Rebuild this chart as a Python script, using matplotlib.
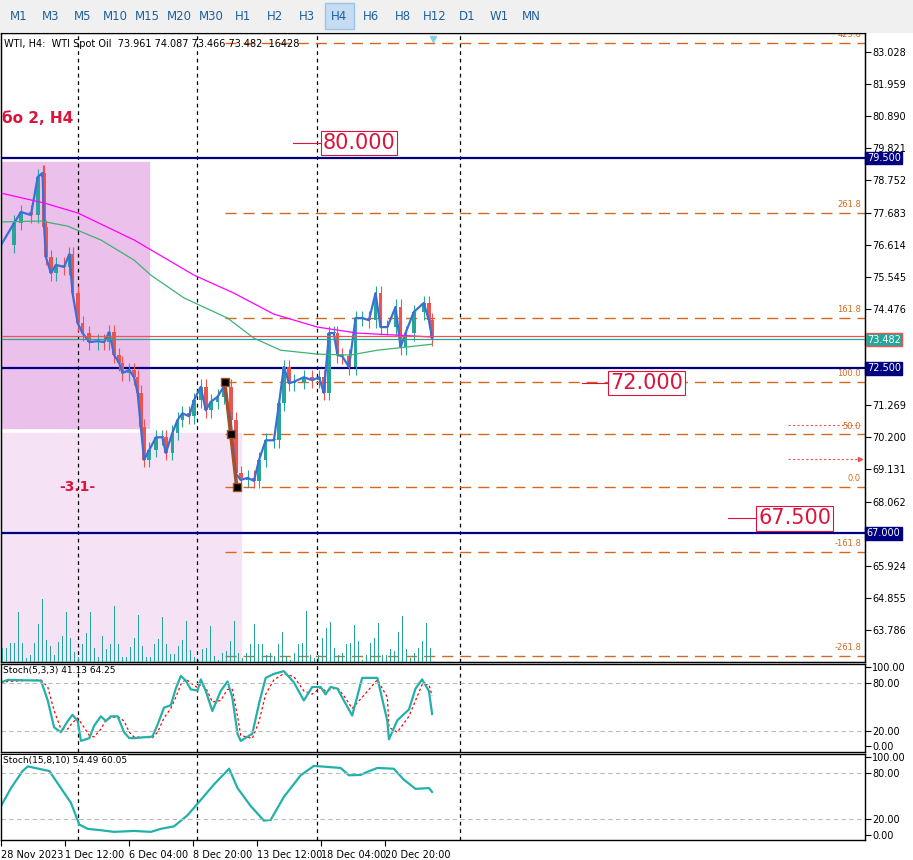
import matplotlib.pyplot as plt
import matplotlib.patches as mpatches

# time positions are in H4 bars (1 bar = 4 px on the chart)
bar_pos = [0, 3.3, 5, 7.5, 9.2, 10.4, 10.8, 11.25, 12.5, 13.75, 15.8, 17.1, 17.9, 19.2, 20.4, 22.1,
           24.2, 25.8, 27.1, 28.3, 29.6, 30.4, 32.1, 33.3, 34.2, 35, 35.8, 37.1, 38.8, 40.4, 41.25,
           42.9, 44.2, 45.4, 47.1, 48.3, 50, 51.25, 52.5, 54.2, 55.7, 57.5, 58.75, 60, 61.7, 63.3,
           64.6, 66.25, 68.3, 69.6, 70.8, 72.1, 73.3, 75.8, 77.9, 79.6, 80.8, 82.1, 83.3, 84.2,
           85.4, 87.1, 88.75, 90.4, 92.1, 93.75, 95, 96.7, 98.75, 100, 101.25, 103.3, 105.8,
           107.1, 107.9]
closes = [76.6, 77.34, 77.7, 77.6, 78.87, 79.0, 77.2, 76.2, 75.67, 75.94, 75.87, 76.3, 75.0,
          74.0, 73.67, 73.37, 73.4, 73.37, 73.7, 72.94, 72.67, 72.34, 72.44, 72.2, 71.68, 70.55,
          69.45, 69.78, 70.2, 70.2, 69.68, 70.35, 70.78, 71.0, 70.9, 71.44, 71.88, 71.1, 71.38,
          71.55, 71.88, 70.78, 69.0, 68.78, 68.85, 68.75, 69.45, 70.1, 70.1, 71.34, 72.54, 72.0,
          72.05, 72.2, 72.1, 72.2, 71.68, 73.67, 73.67, 72.94, 72.9, 72.54, 74.17, 74.17, 74.1,
          75.0, 73.87, 73.87, 74.54, 73.2, 73.67, 74.37, 74.67, 74.1, 73.5]

ma_slow_x = [0, 10.8, 19.2, 33.3, 48.3, 58.3, 68.3, 79.2, 89.2, 107.9]
ma_slow = [78.33, 78.0, 77.67, 76.77, 75.6, 75.0, 74.3, 73.87, 73.67, 73.54]
ma_fast_x = [0, 10, 16.7, 25, 33.3, 37.5, 45.8, 56.7, 63.3, 70, 79.2, 87.5, 94.2, 107.9]
ma_fast = [77.37, 77.4, 77.23, 76.77, 76.1, 75.6, 74.84, 74.17, 73.5, 73.1, 72.97, 72.94, 73.1, 73.3]

volumes = [42, 42, 57, 57, 147, 55, 12, 20, 57, 112, 185, 65, 47, 20, 59, 77, 147, 72, 29, 15,
           52, 84, 147, 42, 15, 77, 37, 52, 165, 52, 15, 15, 44, 72, 137, 47, 15, 15, 52, 67,
           132, 52, 24, 24, 47, 65, 120, 34, 15, 7, 37, 42, 107, 17, 7, 27, 32, 62, 122, 27,
           12, 27, 52, 112, 54, 52, 20, 27, 17, 52, 87, 19, 7, 27, 52, 57, 150, 22, 12, 22,
           72, 99, 119, 42, 20, 27, 52, 57, 109, 62, 7, 22, 57, 72, 115, 20, 22, 37, 32, 87,
           134, 37, 12, 27, 42, 62, 114, 42]

st1_x = [0, 1.7, 10, 11.7, 13.3, 15, 16.7, 17.9, 19.2, 20, 22.1, 23.3, 25, 26.25, 27.5, 29.2,
         30.8, 32.1, 33.3, 37.9, 39.2, 40.8, 42.5, 43.75, 45, 46.25, 47.5, 49.2, 50, 51.25,
         52.9, 55, 56.7, 57.9, 59.2, 60, 62.9, 64.6, 66.25, 68.3, 70.8, 73.3, 75.8, 77.9, 80,
         81.25, 82.5, 84.2, 85.8, 87.9, 90.4, 94.2, 96.7, 97.1, 99.2, 102.1, 103.75, 105.4,
         107.1, 107.9]
st1_main = [80.8, 84, 83, 58, 24, 18, 32, 40, 32, 7, 10.5, 26, 38, 32, 38, 38, 18, 10.5, 10.5,
            12.4, 27.6, 49, 52, 73, 89, 83, 72, 70.6, 84.6, 70, 44.7, 70, 82, 61.5, 16, 7, 16,
            54.6, 86.5, 91.5, 95, 80.8, 58, 75, 75, 65.7, 75, 73, 58, 39, 86.5, 86.5, 32, 9, 33,
            46.6, 73, 84.6, 70, 41]
st1_sig = [80, 82, 84, 75, 45, 22, 22, 30, 36, 30, 14, 12, 22, 33, 36, 38, 32, 18, 12,
           11, 18, 36, 48, 62, 78, 85, 80, 74, 78, 74, 56, 58, 72, 72, 38, 14, 10, 32, 66, 84,
           92, 88, 70, 66, 74, 70, 72, 74, 64, 48, 62, 84, 62, 24, 18, 38, 58, 78, 78, 64]

st2_x = [0, 2.5, 5.4, 6.7, 12.1, 15, 17.5, 19.6, 21.7, 25, 28.3, 33.3, 37.5, 40, 43.3, 46.7,
         50, 53.3, 57.1, 59.2, 62.5, 65.8, 67.5, 70.8, 75, 78.3, 80, 82.5, 85, 87.1, 90,
         91.7, 94.2, 98.3, 100.8, 103.75, 107.1, 107.9]
st2_main = [36.8, 60, 82, 88, 82, 60, 41, 13, 7.4, 5.6, 3.5, 4.7, 3.5, 7.4, 10.6, 25, 44.7,
            64.7, 85, 60, 36.8, 18, 19, 48.6, 76.5, 88.6, 88, 87, 86, 76.5, 77, 81, 86, 85,
            71, 59, 60, 55]

zigzag_x = [56, 57.5, 59]
zigzag_y = [72.04, 70.3, 68.55]

fib_levels = [83.33, 77.68, 74.17, 72.04, 70.3, 68.55, 66.39, 62.92]
fib_names = ['423.6', '261.8', '161.8', '100.0', '50.0', '0.0', '-161.8', '-261.8']
levels = [79.5, 72.5, 67.0]
level_labels = ['79.500', '72.500', '67.000']
price_ticks = [83.028, 81.959, 80.890, 79.821, 78.752, 77.683, 76.614, 75.545, 74.476,
               73.407, 72.338, 71.269, 70.200, 69.131, 68.062, 66.993, 65.924, 64.855, 63.786]
hidden_ticks = [73.407, 72.338, 66.993]  # covered by the price boxes
time_ticks = [0, 16, 32, 48, 64, 80, 96]
time_labels = ['28 Nov 2023', '1 Dec 12:00', '6 Dec 04:00', '8 Dec 20:00',
               '13 Dec 12:00', '18 Dec 04:00', '20 Dec 20:00']
periods = ['M1', 'M3', 'M5', 'M10', 'M15', 'M20', 'M30', 'H1', 'H2', 'H3', 'H4', 'H6',
           'H8', 'H12', 'D1', 'W1', 'MN']
separators = [19.25, 49, 79, 115]

XMAX = 865 / 4
UP, DOWN, BLUE, NAVY, ORANGE = '#26a69a', '#ef5350', '#3a6fd8', '#000080', '#d2691e'
FS = 7

fig = plt.figure(figsize=(9.13, 8.60), dpi=100)
W, H = 913, 860

def frac(x0, y0, x1, y1):
    return [x0 / W, 1 - y1 / H, (x1 - x0) / W, (y1 - y0) / H]

# toolbar
fig.patches.append(mpatches.Rectangle((0, 1 - 32 / H), 1, 32 / H, transform=fig.transFigure,
                                      color='#f0f0f0', zorder=0))
fig.patches.append(mpatches.Rectangle((325 / W, 1 - 29 / H), 29 / W, 26 / H,
                                      transform=fig.transFigure, facecolor='#c5dcf2',
                                      edgecolor='#9cc3e8', zorder=1))
for i, p in enumerate(periods):
    fig.text((19 + 32 * i) / W, 1 - 16 / H, p, ha='center', va='center', fontsize=8.5,
             color='#1f5f9f')

ax = fig.add_axes(frac(1, 33, 865, 662))
ax1 = fig.add_axes(frac(1, 664, 865, 752), sharex=ax)
ax2 = fig.add_axes(frac(1, 754, 865, 840), sharex=ax)

ymin, ymax = 62.72, 83.66
ax.set_ylim(ymin, ymax)
ax.set_xlim(0, XMAX)

# zones
ax.add_patch(mpatches.Rectangle((0, 70.51), 37, 79.37 - 70.51, color='#ebc0eb', zorder=0))
ax.add_patch(mpatches.Rectangle((0, ymin), 60, 70.35 - ymin, color='#f5e3f5', zorder=0))

# volumes on a hidden twin axis
axv = ax.twinx()
axv.set_ylim(0, 1850)
axv.bar([i + 0.5 for i in range(len(volumes))], volumes, width=0.25, color=UP)
axv.set_yticks([])
axv.set_zorder(ax.get_zorder() + 1)
axv.patch.set_visible(False)
axv.set_xlim(0, XMAX)

for s in separators:
    for a in (ax, ax1, ax2):
        a.axvline(s, color='black', ls=(0, (3, 3)), lw=0.9, zorder=2)

for lv in fib_levels:
    ax.hlines(lv, 56, XMAX, color=ORANGE, ls=(0, (8, 5)), lw=1, zorder=2)
for lv, nm in zip(fib_levels, fib_names):
    ax.text(XMAX - 1, lv + 0.12, nm, ha='right', va='bottom', fontsize=6, color=ORANGE)
ax.hlines([70.6, 69.48], 197, 215, color='#ef5350', ls=(0, (2, 2)), lw=0.8)
ax.plot([215], [69.48], marker='>', color='#ef5350', ms=3)

for lv in levels:
    ax.axhline(lv, color=NAVY, lw=1.6, zorder=3)

# candles
opens = [closes[0]] + closes[:-1]
for x, o, c in zip(bar_pos, opens, closes):
    col = UP if c >= o else DOWN
    lo, hi = min(o, c), max(o, c)
    ax.vlines(x, lo - 0.25, hi + 0.25, color=col, lw=0.8, zorder=4)
    ax.bar(x, max(hi - lo, 0.03), bottom=lo, width=0.9, color=col, zorder=4)
ax.plot(bar_pos, closes, color=BLUE, lw=1.6, zorder=5)
ax.plot(ma_slow_x, ma_slow, color='#ff00ff', lw=0.9, zorder=5)
ax.plot(ma_fast_x, ma_fast, color='#3cb371', lw=0.9, zorder=5)
ax.axhline(73.57, color='#ef5350', lw=0.9, zorder=5)
ax.axhline(73.482, color=UP, lw=0.9, zorder=5)

ax.plot(zigzag_x, zigzag_y, color='#a0522d', lw=2.5, zorder=6)
ax.plot(zigzag_x, zigzag_y, 's', color='black', mec='#a0522d', ms=6, zorder=7)

# target price boxes
for x0, x1, p, txt in [(73, 80, 80.0, '80.000'), (145.5, 152, 72.0, '72.000'),
                       (182, 189, 67.5, '67.500')]:
    ax.plot([x0, x1], [p, p], color='#dc143c', lw=0.8, zorder=6)
    ax.text(x1 + 0.5, p, txt, fontsize=15, color='#dc143c', va='center', ha='left', zorder=7,
            bbox=dict(boxstyle='square,pad=0.1', fc='white', ec='#dc143c', lw=0.8))

ax.text(0.3, 80.83, 'бо 2, H4', fontsize=11, color='#dc143c', fontweight='bold', va='center')
ax.text(14.5, 68.55, '-3.1-', fontsize=10, color='#dc143c', fontweight='bold', va='center')
ax.text(0.8, 83.28, 'WTI, H4:  WTI Spot Oil  73.961 74.087 73.466 73.482  16428',
        fontsize=7, va='center', zorder=8)
ax.plot([108], [83.45], marker='v', color='#87ceeb', ms=5, clip_on=False)

ax.yaxis.tick_right()
ax.set_yticks(price_ticks)
ax.set_yticklabels(['' if t in hidden_ticks else f'{t:.3f}' for t in price_ticks], fontsize=FS)
for lv, lb in zip(levels, level_labels):
    ax.text(1.002, lv, lb, transform=ax.get_yaxis_transform(), fontsize=FS, color='white',
            va='center', ha='left', bbox=dict(boxstyle='square,pad=0.15', fc=NAVY, ec=NAVY))
ax.text(1.002, 73.45, '73.482', transform=ax.get_yaxis_transform(), fontsize=FS,
        color='white', va='center', ha='left',
        bbox=dict(boxstyle='square,pad=0.15', fc=UP, ec=DOWN))

# stochastics
ax1.plot(st1_x, st1_sig, color='red', ls=(0, (2, 2)), lw=0.9)
ax1.plot(st1_x, st1_main, color='#20b2aa', lw=1.6)
ax2.plot(st2_x, st2_main, color='#20b2aa', lw=1.6)
ax1.text(0.5, 96, 'Stoch(5,3,3) 41.13 64.25', fontsize=6.5, va='center')
ax2.text(0.5, 96, 'Stoch(15,8,10) 54.49 60.05', fontsize=6.5, va='center',
         bbox=dict(fc='white', ec='none', pad=0.5))
for a in (ax1, ax2):
    a.set_ylim(-7, 104)
    for lv in (80, 20):
        a.axhline(lv, color='#bbbbbb', ls=(0, (4, 3)), lw=0.8)
    a.yaxis.tick_right()
    a.set_yticks([100, 80, 20, 0])
    a.set_yticklabels(['100.00', '80.00', '20.00', '0.00'], fontsize=FS)

for a in (ax, ax1):
    a.tick_params(axis='x', length=0, labelbottom=False)
ax2.set_xticks(time_ticks)
ax2.set_xticklabels(time_labels, fontsize=FS, ha='left')
ax2.tick_params(axis='x', length=4, direction='out')
for a in (ax, ax1, ax2):
    a.tick_params(axis='y', length=4, pad=1)
    for sp in a.spines.values():
        sp.set_linewidth(1)

fig.savefig('out.png', dpi=100)
